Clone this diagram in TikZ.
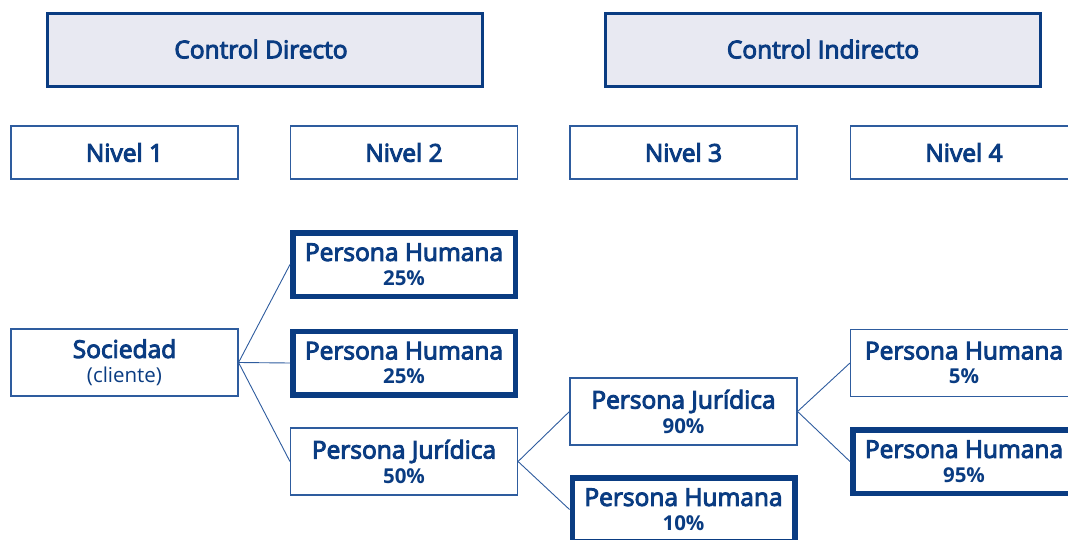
\documentclass[tikz,border=0pt]{standalone}
\usepackage{fontspec}
\setmainfont{Open Sans}
\newfontfamily\sbfont[FakeBold=4]{Open Sans}
\newcommand{\semib}{\sbfont}
\definecolor{dblue}{HTML}{0A3C82}
\definecolor{lblue}{HTML}{2E5C9E}
\definecolor{lfill}{HTML}{E8E9F2}
\tikzset{
  ctrlbox/.style={draw=dblue, line width=3pt, fill=lfill, minimum width=435pt, minimum height=73pt, inner sep=0pt, text=dblue, font=\fontsize{24.5}{26}\selectfont},
  thinbox/.style={draw=lblue, line width=1.1pt, fill=white, minimum width=227pt, minimum height=53pt, inner sep=0pt, text=dblue, align=center},
  nivtext/.style={font=\fontsize{24.5}{26}\selectfont},
  entbox/.style={thinbox, minimum height=67pt, font=\fontsize{20}{24.5}\selectfont},
  thickbox/.style={entbox, line width=5.5pt, draw=dblue, minimum width=222.5pt, minimum height=63.5pt},
  conn/.style={draw=lblue, line width=0.9pt}
}
\newcommand{\ent}[2]{{\semib\fontsize{24.5}{24.5}\selectfont #1}\\{\bfseries\fontsize{20.5}{24.5}\selectfont #2}}
\begin{document}
\begin{tikzpicture}[x=1pt,y=-1pt]
\useasboundingbox (0,0) rectangle (1068,540);
\clip (0,0) rectangle (1068,540);
\node[ctrlbox] (cd) at (265,50) {\hspace*{-8pt}\raisebox{2pt}{{\semib Control Directo}}};
\node[ctrlbox] (ci) at (823,50) {\raisebox{2pt}{{\semib Control Indirecto}}};
\node[thinbox,nivtext] (n1) at (124.5,152.5) {{\semib Nivel 1}};
\node[thinbox,nivtext] (n2) at (404,152.5) {{\semib Nivel 2}};
\node[thinbox,nivtext] (n3) at (683.5,152.5) {{\semib Nivel 3}};
\node[thinbox,nivtext] (n4) at (964,152.5) {{\semib Nivel 4}};
\node[entbox] (soc) at (124.5,362.5) {{\semib\fontsize{24.5}{24.5}\selectfont Sociedad}\\{\fontsize{20.5}{24.5}\selectfont (cliente)}};
\node[thickbox] (ph1) at (404,264.5) {\ent{Persona Humana}{25\%}};
\node[thickbox] (ph2) at (404,363) {\ent{Persona Humana}{25\%}};
\node[entbox] (pj1) at (404,461.5) {\ent{Persona Jurídica}{50\%}};
\node[entbox] (pj2) at (683.5,411.5) {\ent{Persona Jurídica}{90\%}};
\node[thickbox] (ph3) at (683.5,509.5) {\ent{Persona Humana}{10\%}};
\node[entbox] (ph4) at (964,363) {\ent{Persona Humana}{5\%}};
\node[thickbox] (ph5) at (964,461.5) {\ent{Persona Humana}{95\%}};
\draw[conn] (soc.east) -- (ph1.west);
\draw[conn] (soc.east) -- (ph2.west);
\draw[conn] (soc.east) -- (pj1.west);
\draw[conn] (pj1.east) -- (pj2.west);
\draw[conn] (pj1.east) -- (ph3.west);
\draw[conn] (pj2.east) -- (ph4.west);
\draw[conn] (pj2.east) -- (ph5.west);
\end{tikzpicture}
\end{document}
